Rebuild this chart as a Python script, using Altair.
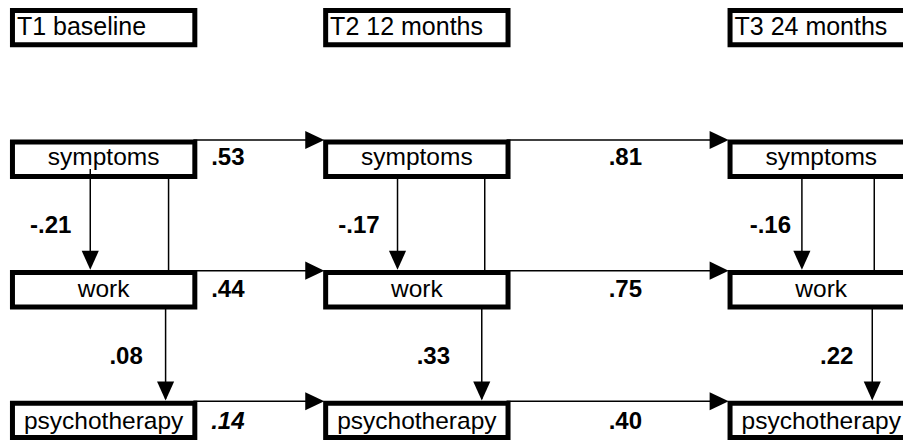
import altair as alt
import pandas as pd

# ---------------- data ----------------
times = ["T1 baseline", "T2 12 months", "T3 24 months"]
variables = ["symptoms", "work", "psychotherapy"]
# stability paths (T1->T2, T2->T3) per variable
stability = {
    "symptoms": [0.53, 0.81],
    "work": [0.44, 0.75],
    "psychotherapy": [0.14, 0.40],
}
stability_italic = {
    "symptoms": [False, False],
    "work": [False, False],
    "psychotherapy": [True, False],
}
# cross-sectional paths at T1, T2, T3
sym_to_work = [-0.21, -0.17, -0.16]
work_to_psy = [0.08, 0.33, 0.22]

# ---------------- layout (diagram units ~ reference pixels) ----------------
W, H = 895, 432                   # plot area (page has 8px margin)
DOM_X = [8, 911]
DOM_Y = [8, 448]
COL_LEFT = [10, 326, 734]
BOX_W = 189
BOX_H = 40
ROW_TOP = [8, 142, 275, 408]      # header, symptoms, work, psychotherapy
ROW_BASE = [35, 168, 302, 437]    # text baselines per row
BORDER = 5
HLAB_X = [213, 614]
VLAB1_X = [72, 383, 798]
VLAB1_Y = 237
VLAB2_X = [144, 454, 861]
VLAB2_Y = 371
DOWN1_X = [91, 401, 809]
DOWN1_Y0 = [172, 180, 180]
PASS_UP_X = [170, 489, 882]
PASS_LO_X = [167, 486, 880]
HEAD = 19
FONT = "Liberation Sans"


def fmt(v):
    s = f"{v:.2f}"
    return s.replace("0.", ".", 1)


# boxes and their labels
boxes, hdr_labels, var_labels = [], [], []
for c in range(3):
    for r in range(4):
        label = times[c] if r == 0 else variables[r - 1]
        boxes.append(dict(
            x=COL_LEFT[c] + BORDER / 2, x2=COL_LEFT[c] + BOX_W - BORDER / 2,
            y=ROW_TOP[r] + BORDER / 2, y2=ROW_TOP[r] + BOX_H - BORDER / 2))
        if r == 0:
            hdr_labels.append(dict(x=COL_LEFT[c] + 7, y=ROW_BASE[r], t=label))
        else:
            var_labels.append(dict(x=COL_LEFT[c] + BOX_W / 2, y=ROW_BASE[r], t=label))

# lines hidden behind boxes (pass-through paths) and visible arrows
under_lines, over_lines, heads_r, heads_d = [], [], [], []
for c in range(3):
    under_lines.append(dict(x=PASS_UP_X[c], y=ROW_TOP[1] + BOX_H - 4,
                            x2=PASS_UP_X[c], y2=ROW_TOP[2] + 4))
    under_lines.append(dict(x=PASS_LO_X[c], y=ROW_TOP[2] + BOX_H - 4,
                            x2=PASS_LO_X[c], y2=ROW_TOP[3] - 2))
    heads_d.append(dict(x=PASS_LO_X[c], y=ROW_TOP[3] - 0.5 - HEAD / 2))
    over_lines.append(dict(x=DOWN1_X[c], y=DOWN1_Y0[c],
                           x2=DOWN1_X[c], y2=ROW_TOP[2] - 4))
    heads_d.append(dict(x=DOWN1_X[c], y=ROW_TOP[2] - 0.5 - HEAD / 2))

h_labels, h_labels_it = [], []
for r, v in enumerate(variables, start=1):
    for c in range(2):
        yline = ROW_TOP[r] + 0.5
        over_lines.append(dict(x=COL_LEFT[c] + BOX_W - 4, y=yline,
                               x2=COL_LEFT[c + 1] - 4, y2=yline))
        heads_r.append(dict(x=COL_LEFT[c + 1] + 1 - HEAD / 2, y=yline))
        rec = dict(x=HLAB_X[c], y=ROW_BASE[r], t=fmt(stability[v][c]))
        (h_labels_it if stability_italic[v][c] else h_labels).append(rec)

v_labels = []
for c in range(3):
    v_labels.append(dict(x=VLAB1_X[c], y=VLAB1_Y, t=fmt(sym_to_work[c])))
    v_labels.append(dict(x=VLAB2_X[c], y=VLAB2_Y, t=fmt(work_to_psy[c])))

# ---------------- chart ----------------
xs = alt.Scale(domain=DOM_X, nice=False, zero=False)
ys = alt.Scale(domain=DOM_Y, nice=False, zero=False, reverse=True)
X = alt.X("x:Q", scale=xs, axis=None)
Y = alt.Y("y:Q", scale=ys, axis=None)


def base(rows):
    return alt.Chart(pd.DataFrame(rows))


under = base(under_lines).mark_rule(color="black", strokeWidth=1.5, clip=True).encode(
    x=X, y=Y, x2="x2:Q", y2="y2:Q")
box_layer = base(boxes).mark_rect(fill="white", stroke="black", strokeWidth=BORDER,
                                  clip=True).encode(x=X, y=Y, x2="x2:Q", y2="y2:Q")
over = base(over_lines).mark_rule(color="black", strokeWidth=1.5, clip=True).encode(
    x=X, y=Y, x2="x2:Q", y2="y2:Q")
hr = base(heads_r).mark_point(shape="M-1,-0.95L1,0L-1,0.95Z", filled=True, size=HEAD ** 2,
                              color="black", opacity=1, clip=True).encode(x=X, y=Y)
hd = base(heads_d).mark_point(shape="M-0.9,-1L0.9,-1L0,1Z", filled=True, size=HEAD ** 2,
                              color="black", opacity=1, clip=True).encode(x=X, y=Y)
hdr_t = base(hdr_labels).mark_text(font=FONT, fontSize=25, align="left",
                                   baseline="alphabetic", color="black").encode(
    x=X, y=Y, text="t:N")
var_t = base(var_labels).mark_text(font=FONT, fontSize=24.5, align="center",
                                   baseline="alphabetic", color="black").encode(
    x=X, y=Y, text="t:N")
hl = base(h_labels).mark_text(font=FONT, fontSize=24, fontWeight="bold", align="left",
                              baseline="alphabetic", color="black").encode(
    x=X, y=Y, text="t:N")
hli = base(h_labels_it).mark_text(font=FONT, fontSize=24, fontWeight="bold",
                                  fontStyle="italic", align="left",
                                  baseline="alphabetic", color="black").encode(
    x=X, y=Y, text="t:N")
vl = base(v_labels).mark_text(font=FONT, fontSize=24, fontWeight="bold", align="right",
                              baseline="alphabetic", color="black").encode(
    x=X, y=Y, text="t:N")

chart = alt.layer(under, box_layer, over, hr, hd, hdr_t, var_t, hl, hli, vl).properties(
    width=W, height=H, padding=0, autosize="none", background="white"
).configure_view(stroke=None)

chart.save("out.html", embed_options={"renderer": "svg", "actions": False})
